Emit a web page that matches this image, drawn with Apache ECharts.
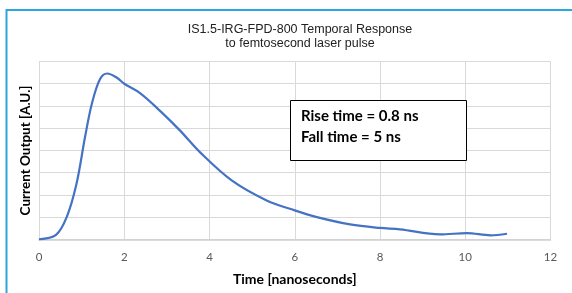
<!DOCTYPE html>
<html lang="en">
<head>
    <meta charset="UTF-8">
    <title>Temporal Response</title>
    <style>
        *{
            margin: 0;
            padding: 0;
        }
        #chart{
            width: 572px;
            height: 293px;
            background: #fff;
        }
    </style>
    <script src="https://cdn.jsdelivr.net/npm/echarts@6/dist/echarts.min.js"></script>
</head>
<body>
    <div id="chart"></div>
    <script>
        // time in ns, output in arbitrary units (grid steps)
        var times = [0, 0.4, 0.65, 0.88, 1.08, 1.24, 1.43, 1.6, 1.82, 2.0, 2.37, 2.84, 3.31, 3.78, 4.52, 5.34, 6.0, 6.52, 7.3, 8.0, 8.47, 9.41, 10.04, 10.59, 10.98]
        var values = [0, 0.2, 1.0, 2.5, 4.6, 6.1, 7.2, 7.46, 7.28, 7.0, 6.58, 5.78, 4.89, 3.91, 2.65, 1.75, 1.3, 1.0, 0.67, 0.51, 0.45, 0.22, 0.28, 0.18, 0.25]
        var xTicks = [0, 2, 4, 6, 8, 10, 12]

        var pts = []
        for (var i = 0; i < times.length; i++) {
            pts.push([times[i], values[i]])
        }

        var myChart = echarts.init(document.getElementById('chart'))
        var option = {
            animation: false,
            title: {
                text: 'IS1.5-IRG-FPD-800 Temporal Response\nto femtosecond laser pulse',
                left: 295,
                top: 17,
                textAlign: 'center',
                textStyle: {
                    fontFamily: 'Liberation Sans',
                    fontSize: 12.5,
                    fontWeight: 'normal',
                    color: '#222',
                    lineHeight: 14.5
                }
            },
            grid: {
                left: 39,
                right: 21.5,
                top: 61.5,
                bottom: 53.7
            },
            xAxis: {
                type: 'value',
                min: 0,
                max: 12,
                interval: 2,
                name: 'Time [nanoseconds]',
                nameLocation: 'middle',
                nameGap: 33,
                nameTextStyle: {
                    fontFamily: 'Lato',
                    fontWeight: 'bold',
                    fontSize: 14,
                    color: '#000'
                },
                axisLine: { lineStyle: { color: '#d0d0d0', width: 1.5 } },
                axisTick: { show: false },
                axisLabel: {
                    margin: 12,
                    fontFamily: 'Lato',
                    fontSize: 11.5,
                    color: '#595959',
                    formatter: function (v) { return xTicks.indexOf(v) >= 0 ? v : '' }
                },
                splitLine: { show: true, lineStyle: { color: '#d9d9d9', width: 1 } }
            },
            yAxis: {
                type: 'value',
                min: 0,
                max: 8,
                interval: 1,
                name: 'Current Output [A.U.]',
                nameLocation: 'middle',
                nameGap: 6,
                nameTextStyle: {
                    fontFamily: 'Lato',
                    fontWeight: 'bold',
                    fontSize: 13.5,
                    color: '#000'
                },
                axisLine: { show: false },
                axisTick: { show: false },
                axisLabel: { show: false },
                splitLine: { lineStyle: { color: '#d9d9d9', width: 1 } }
            },
            series: [
                {
                    type: 'line',
                    data: pts,
                    smooth: 0.35,
                    symbol: 'none',
                    lineStyle: { color: '#4472c4', width: 2.2 }
                }
            ],
            graphic: [
                {
                    type: 'rect',
                    shape: { x: 6.5, y: 10, width: 600, height: 320 },
                    style: { fill: 'none', stroke: '#2aa7df', lineWidth: 2 },
                    silent: true
                },
                {
                    type: 'rect',
                    shape: { x: 290.5, y: 100.5, width: 176, height: 60 },
                    style: { fill: '#fff', stroke: '#000', lineWidth: 1 },
                    z: 10
                },
                {
                    type: 'text',
                    x: 301,
                    y: 106,
                    style: {
                        text: 'Rise time = 0.8 ns\nFall time = 5 ns',
                        fontFamily: 'Lato',
                        fontWeight: 'bold',
                        fontSize: 15,
                        lineHeight: 21,
                        fill: '#000'
                    },
                    z: 11
                }
            ]
        }
        myChart.setOption(option)
    </script>
</body>
</html>
